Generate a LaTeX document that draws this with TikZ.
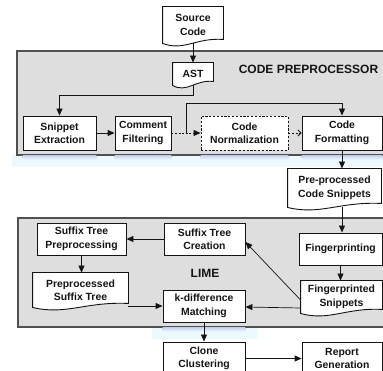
\documentclass[tikz,border=0pt]{standalone}
\usepackage{fontspec}
\setmainfont{Liberation Sans}
\usetikzlibrary{arrows.meta,calc}
\pgfdeclarelayer{panels}
\pgfdeclarelayer{docs}
\pgfsetlayers{panels,docs,main}

\definecolor{panelgray}{RGB}{222,222,222}
\definecolor{panelline}{RGB}{80,80,80}
\definecolor{ink}{RGB}{20,20,20}
\definecolor{glow}{RGB}{236,250,255}
\definecolor{shade}{RGB}{200,210,238}

\tikzset{
  box/.style={draw=ink, line width=0.9pt, fill=white, rectangle, inner sep=0pt,
    align=center, text=ink, font=\fontsize{10.4}{13.4}\selectfont\bfseries},
  docbox/.style={box, draw=none, fill=none},
  dashbox/.style={box, dash pattern=on 2.2pt off 1.6pt},
  arr/.style={draw=ink, line width=0.9pt, -{Triangle[length=7pt,width=6pt]}},
  thinarr/.style={draw=ink, line width=0.7pt, -{Triangle[length=7pt,width=6pt]}},
  dotarr/.style={arr, dash pattern=on 2pt off 1.6pt},
  barbarr/.style={draw=ink, line width=0.8pt, dash pattern=on 2pt off 1.6pt,
    -{Straight Barb[length=3pt,width=6pt]}},
  docline/.style={draw=ink, line width=0.9pt, fill=white},
  panel/.style={draw=panelline, line width=1.1pt, fill=panelgray},
  ttl/.style={inner sep=0pt, text=ink, font=\fontsize{12}{14}\selectfont\bfseries},
}

\newcommand\wavedoc[1]{%
  \begin{pgfonlayer}{docs}
    \draw[docline] (#1.north west) -- (#1.north east) -- ([yshift=4pt]#1.south east)
      .. controls ($(#1.south west)!0.55!(#1.south east)+(0,-6)$)
      and ($(#1.south west)!0.35!(#1.south east)+(0,8)$) .. (#1.south west) -- cycle;
  \end{pgfonlayer}}

\begin{document}
\begin{tikzpicture}[x=1pt,y=-1pt]
\clip (0,0) rectangle (383,371);

% background, panels and their glow
\begin{pgfonlayer}{panels}
  \fill[white] (0,0) rectangle (383,371);
  \fill[glow] (12,155) rectangle (383,167);
  \fill[glow] (152,327) rectangle (258,339);
  \draw[panel] (17,51) rectangle (392,155);
  \draw[panel] (18,218) rectangle (392,327);
\end{pgfonlayer}

% titles
\node[ttl] (t1) at (308.5,69) {CODE PREPROCESSOR};
\node[ttl] (t2) at (205,273) {LIME};

% code preprocessor
\node[docbox, minimum width=60pt, minimum height=36pt] (src) at (193,25) {Source\\Code};
\node[docbox, minimum width=40pt, minimum height=22pt] (ast) at (193,74) {AST};
\node[box, minimum width=73pt, minimum height=34pt] (se) at (59.5,133) {Snippet\\Extraction};
\node[box, minimum width=56pt, minimum height=34pt] (cf) at (143,133) {Comment\\Filtering};
\node[dashbox, minimum width=87pt, minimum height=34pt] (cn) at (244.5,133) {Code\\Normalization};
\node[box, minimum width=80pt, minimum height=34pt] (cfmt) at (342,133) {Code\\Formatting};
\node[docbox, minimum width=93pt, minimum height=38pt] (pre) at (334.5,188) {Pre-processed\\Code Snippets};

% LIME
\node[box, minimum width=89pt, minimum height=32pt] (stp) at (81.5,239) {Suffix Tree\\Preprocessing};
\node[box, minimum width=81pt, minimum height=32pt] (stc) at (204.5,239) {Suffix Tree\\Creation};
\node[box, minimum width=83pt, minimum height=32pt] (fp) at (340.5,249) {Fingerprinting};
\node[docbox, minimum width=95pt, minimum height=34pt] (pst) at (80.5,290) {Preprocessed\\Suffix Tree};
\node[box, minimum width=82pt, minimum height=32pt] (kdm) at (204,306) {k-difference\\Matching};
\node[docbox, minimum width=81pt, minimum height=32pt] (fps) at (341.5,297) {Fingerprinted\\Snippets};

% bottom
\node[box, minimum width=82pt, minimum height=33pt] (cc) at (204,358.5) {Clone\\Clustering};
\node[box, minimum width=80pt, minimum height=33pt] (rg) at (342,358.5) {Report\\Generation};

\wavedoc{src}
\wavedoc{ast}
\wavedoc{pre}
\wavedoc{pst}
\wavedoc{fps}

% shadows under boxes
\begin{pgfonlayer}{panels}
  \foreach \b in {se,cf,cn,cfmt}{
    \shade[top color=shade, bottom color=glow] (\b.south west |- 0,155.6) rectangle (\b.south east |- 0,159.5);
  }
  \shade[top color=shade, bottom color=glow] (kdm.south west |- 0,327.6) rectangle (kdm.south east |- 0,331.5);
\end{pgfonlayer}

% connectors
\draw[arr] (src.south) -- (ast.north);
\draw[arr] (ast.south) -- ++(0,10) -| (se.north);
\draw[arr] (se.east) -- (cf.west);
\draw[dotarr] (cf.east) -- (cn.west);
\coordinate (byp) at ($(cf.east)!0.5!(cn.west)$);
\draw[arr] (byp) -- ++(0,-30) -| (cfmt.north);
\draw[barbarr] (cn.east) -- (cfmt.west);
\draw[arr] (cfmt.south) -- (cfmt.south |- pre.north);
\draw[arr] (pre.south -| cfmt.south) -- (cfmt.south |- fp.north);
\draw[arr] (fp.south) -- (fp.south |- fps.north);
\draw[arr] (stc.west) -- (stp.east);
\draw[arr] (stp.south) -- (stp.south |- pst.north);
\draw[arr] (pst.east |- kdm.west) -- (kdm.west);
\draw[thinarr] ([yshift=-3pt]fps.west) -- ([yshift=-3pt]stc.east);
\draw[thinarr] ([yshift=-11pt]fps.west) -- ([yshift=-1pt]kdm.east);
\draw[arr] (kdm.south) -- (cc.north);
\draw[arr] (cc.east) -- (rg.west);
\end{tikzpicture}
\end{document}
